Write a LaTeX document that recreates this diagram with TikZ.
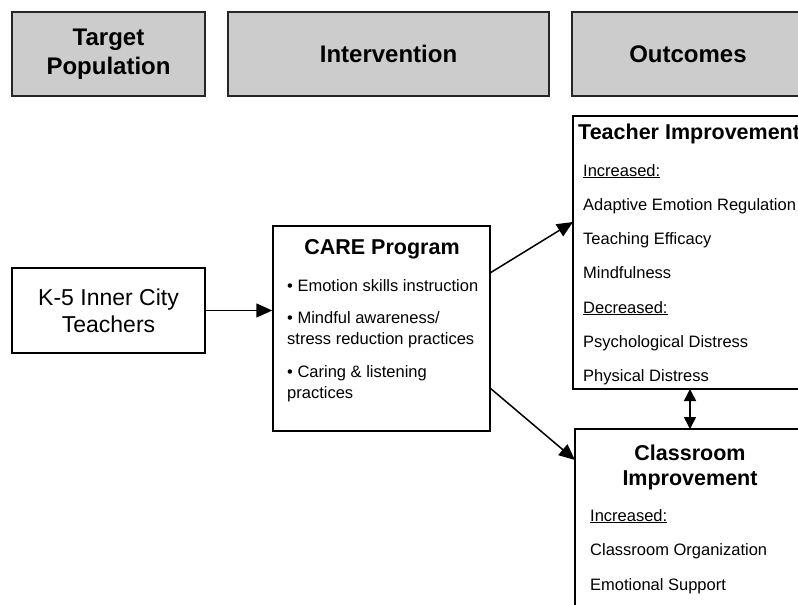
\documentclass[tikz,border=0pt]{standalone}
\usepackage{fontspec}
\setmainfont{Liberation Sans}
\usetikzlibrary{arrows.meta}
\begin{document}
\begin{tikzpicture}[x=1pt,y=-1pt,
  hdr/.style={draw=black!85, fill=black!20, line width=1.5pt, inner sep=0pt, align=center, font=\bfseries\fontsize{24}{29}\selectfont},
  box/.style={draw, line width=1.5pt, inner sep=0pt},
  txt/.style={anchor=base west, inner sep=0pt, font=\fontsize{16.5}{20}\selectfont},
  ttl/.style={anchor=base, inner sep=0pt, font=\bfseries\fontsize{21.5}{26}\selectfont},
  arr/.style={line width=1.5pt, -{Triangle[length=16pt,width=14pt]}},
  darr/.style={line width=1.5pt, {Triangle[length=12pt,width=12pt]}-{Triangle[length=12pt,width=12pt]}}]
\useasboundingbox (0,0) rectangle (798,605);
\clip (0,0) rectangle (798,605);
% headers
\node[hdr, minimum width=193pt, minimum height=84pt] (tp) at (108.5,54) {Target\\Population};
\node[hdr, minimum width=321pt, minimum height=84pt] (iv) at (388.5,54) {Intervention};
\node[hdr, minimum width=232pt, minimum height=84pt] (oc) at (688,54) {Outcomes};
% boxes
\node[box, minimum width=193pt, minimum height=85pt, align=center, font=\fontsize{23}{27}\selectfont] (k5) at (108.5,310.5) {K-5 Inner City\\Teachers};
\node[box, minimum width=217pt, minimum height=205pt] (care) at (381.5,328.5) {};
\node[box, minimum width=257pt, minimum height=273pt] (teacher) at (701.5,252.5) {};
\node[box, minimum width=230pt, minimum height=231pt] (class) at (690,544.5) {};
% CARE text
\node[ttl] (caret) at (382,254) {CARE Program};
\node[txt] (c1) at (287,291) {\textbullet\ Emotion skills instruction};
\node[txt] (c2) at (287,323) {\textbullet\ Mindful awareness/};
\node[txt] (c3) at (287,344) {stress reduction practices};
\node[txt] (c4) at (287,377) {\textbullet\ Caring \& listening};
\node[txt] (c5) at (287,398) {practices};
% Teacher text
\node[ttl, anchor=base west] (tt) at (578,139) {Teacher Improvement};
\node[txt] (t1) at (583,176) {\underline{Increased:}};
\node[txt] (t2) at (583,210) {Adaptive Emotion Regulation};
\node[txt] (t3) at (583,244) {Teaching Efficacy};
\node[txt] (t4) at (583,278) {Mindfulness};
\node[txt] (t5) at (583,313) {\underline{Decreased:}};
\node[txt] (t6) at (583,347) {Psychological Distress};
\node[txt] (t7) at (583,381) {Physical Distress};
% Classroom text
\node[ttl] (ct1) at (690,460) {Classroom};
\node[ttl] (ct2) at (690,485) {Improvement};
\node[txt] (cl1) at (590,521) {\underline{Increased:}};
\node[txt] (cl2) at (590,555) {Classroom Organization};
\node[txt] (cl3) at (590,590) {Emotional Support};
% connectors
\coordinate (ca1) at (490,273);
\coordinate (ta1) at (573,222);
\coordinate (ca2) at (490,388);
\coordinate (cla1) at (575,460);
\draw[arr] (k5.east) -- (k5.east -| care.west);
\draw[arr] (ca1) -- (ta1);
\draw[arr] (ca2) -- (cla1);
\coordinate (d1) at (690,389);
\coordinate (d2) at (690,429);
\draw[darr] (d1) -- (d2);
\end{tikzpicture}
\end{document}
